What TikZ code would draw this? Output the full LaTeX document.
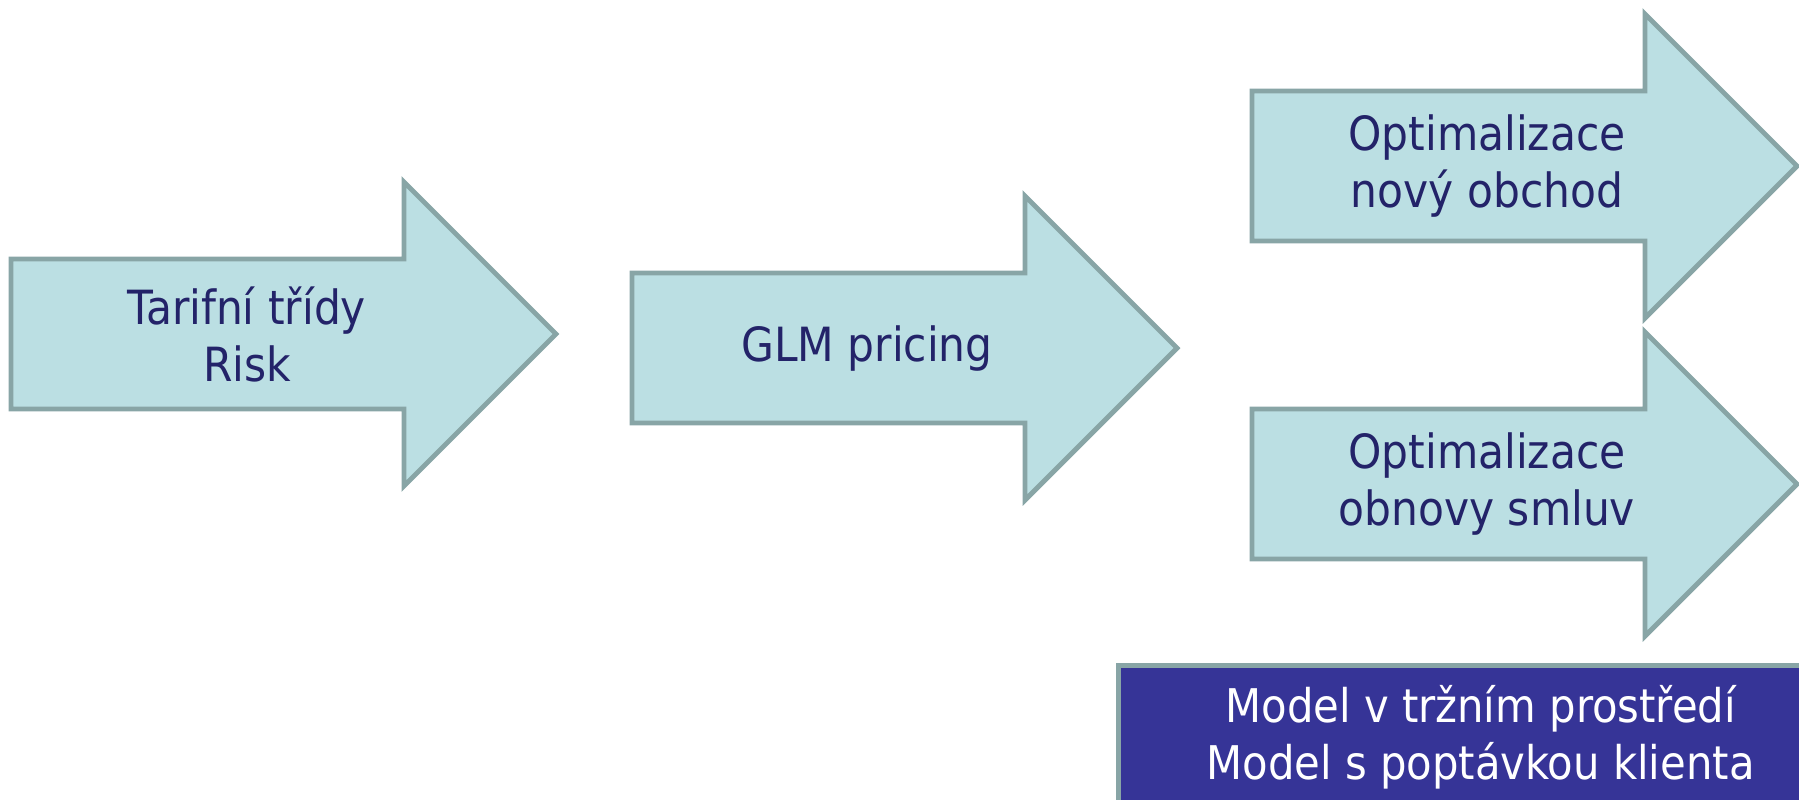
\documentclass[tikz,border=0pt]{standalone}
\usepackage{fontspec}
\setmainfont{DejaVu Sans Condensed}
\definecolor{arrowfill}{HTML}{BBDFE3}
\definecolor{arrowline}{HTML}{88A5A6}
\definecolor{labeltext}{HTML}{232369}
\definecolor{boxfill}{HTML}{363497}

\begin{document}
\begin{tikzpicture}[x=0.01cm,y=-0.01cm,
  arrowbox/.style={fill=arrowfill,draw=arrowline,line width=1.4pt,line join=miter},
  steplabel/.style={text=labeltext,align=center,font=\fontsize{13.4}{16.2}\selectfont},
  marketbox/.style={fill=boxfill,draw=arrowline,line width=1.4pt,text=white,align=center,
    minimum width=7.24cm,minimum height=1.44cm,font=\fontsize{13.2}{16.2}\selectfont},
  flowarrow/.pic={\path[arrowbox] (0,-75) -- (393,-75) -- (393,-152) -- (545,0)
    -- (393,152) -- (393,75) -- (0,75) -- cycle;}]
  \useasboundingbox (0,0) rectangle (1799,799);
  \clip (0,0) rectangle (1799,799);
        % the four arrows
        \pic at (11,334) {flowarrow};
        \pic at (632,348) {flowarrow};
        \pic at (1252,166) {flowarrow};
        \pic at (1252,484) {flowarrow};
        % labels
        \node[steplabel] (tarif) at (247,334) {Tarifní třídy\\Risk};
        \node[steplabel] (glm) at (867,348) {GLM pricing};
        \node[steplabel] (novy) at (1487,166) {Optimalizace\\nový obchod};
        \node[steplabel] (obnova) at (1487,484) {Optimalizace\\obnovy smluv};
        \node[marketbox,anchor=north west] (market) at (1116,663)
          {Model v tržním prostředí\\Model s poptávkou klienta};
\end{tikzpicture}
\end{document}
